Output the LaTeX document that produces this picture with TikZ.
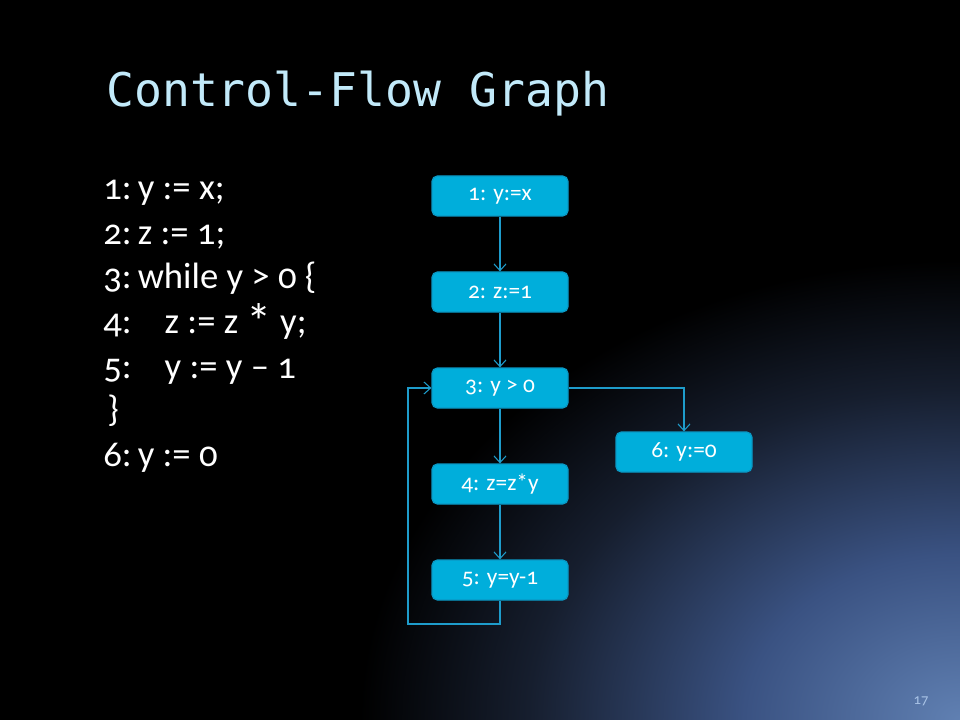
\documentclass[tikz,border=0pt]{standalone}
\usepackage{fontspec}
\setmainfont{Carlito}[Numbers=OldStyle]
\newfontfamily\titlefont{DejaVu Sans Mono}
\usetikzlibrary{arrows.meta,positioning}
\definecolor{boxfill}{HTML}{00AEDB}
\definecolor{boxline}{HTML}{0A98C4}
\definecolor{edgec}{HTML}{1E9CCB}
\definecolor{titlec}{HTML}{C2EAFA}
\definecolor{pagec}{HTML}{A9C3E6}
\definecolor{glowa}{HTML}{6080B2}
\definecolor{glowb}{HTML}{3A5282}
\definecolor{glowc}{HTML}{161E2E}
\pgfdeclareradialshading{cornerglow}{\pgfpoint{0bp}{0bp}}{color(0bp)=(glowa); color(9bp)=(glowb); color(18bp)=(glowc); color(25bp)=(black); color(50bp)=(black)}
\tikzset{
  cfgbox/.style={draw=boxline, line width=0.9pt, fill=boxfill, rounded corners=4pt,
    minimum width=102pt, minimum height=30pt, inner sep=0pt, text=white,
    font=\fontsize{17.5}{19}\selectfont},
  edge/.style={draw=edgec, line width=0.8pt, -{Straight Barb[length=5pt,width=9pt]}},
  codeline/.style={anchor=base west, inner sep=0pt, text=white,
    font=\fontsize{27.5}{32}\selectfont},
}
\newcommand{\lowstar}{\raisebox{-0.3ex}{\fontsize{38}{40}\selectfont *}}
\begin{document}
\begin{tikzpicture}[x=0.75pt,y=-0.75pt]
\useasboundingbox (0,0) rectangle (960,720);
\fill[black] (0,0) rectangle (960,720);
\begin{scope}
\clip (0,0) rectangle (960,720);
\shade[shading=cornerglow] (960,720) ellipse [x radius=600, y radius=460];
\end{scope}
% title
\node[anchor=base west, inner sep=0pt, text=titlec, font=\titlefont\fontsize{34.8}{40}\selectfont] (title) at (106,107) {Control-Flow Graph};
% code
\node[codeline] (c1) at (103,200) {1:\,y := x;};
\node[codeline] (c2) at (103,245) {2:\,z := 1;};
\node[codeline] (c3) at (103,289) {3:\,while y > 0 \{};
\node[codeline] (c4) at (103,334) {4:\hspace{0.6em} z := z \lowstar{} y;};
\node[codeline] (c5) at (103,378) {5:\hspace{0.6em} y := y – 1};
\node[codeline] (c6) at (107,421) {\}};
\node[codeline] (c7) at (103,466) {6:\,y := 0};
% boxes
\node[cfgbox] (n1) at (500,196) {1: y:=x};
\node[cfgbox] (n2) at (500,292) {2: z:=1};
\node[cfgbox] (n3) at (500,388) {3: y > 0};
\node[cfgbox] (n4) at (500,484) {4: z=z*y};
\node[cfgbox] (n5) at (500,580) {5: y=y-1};
\node[cfgbox] (n6) at (684,452) {6: y:=0};
\coordinate (b1) at (500,624);
\coordinate (b2) at (408,624);
\coordinate (b3) at (408,388);
\coordinate (r1) at (684,388);
% edges
\draw[edge] (n1) -- (n2);
\draw[edge] (n2) -- (n3);
\draw[edge] (n3) -- (n4);
\draw[edge] (n4) -- (n5);
\draw[edge] (n3.east) -- (r1) -- (n6.north);
\draw[edge] (n5.south) -- (b1) -- (b2) -- (b3) -- (n3.west);
% page number
\node[anchor=base, inner sep=0pt, text=pagec, font=\fontsize{11}{13}\selectfont] (pg) at (921,704) {17};
\end{tikzpicture}
\end{document}
